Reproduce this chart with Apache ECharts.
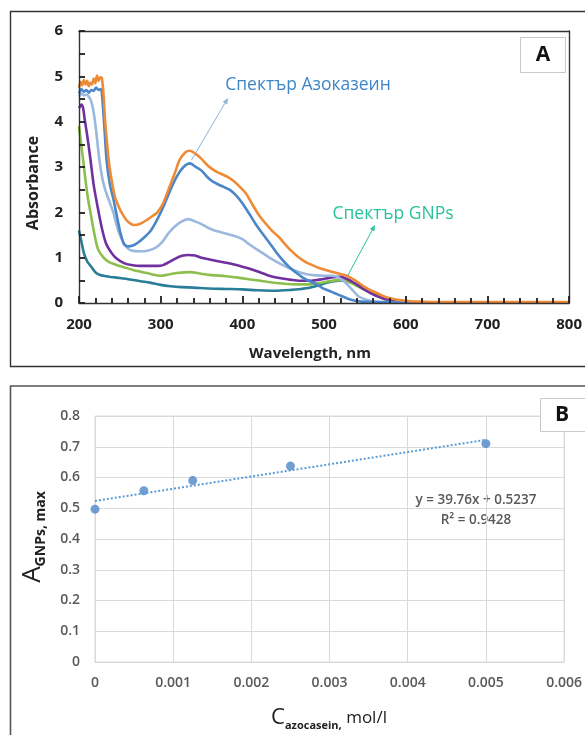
<!DOCTYPE html>
<html>
<head>
<meta charset="utf-8">
<script src="https://cdn.jsdelivr.net/npm/echarts@6/dist/echarts.min.js"></script>
<style>
  html, body { margin: 0; padding: 0; background: #ffffff; }
  #chart { width: 585px; height: 735px; }
</style>
</head>
<body>
<div id="chart"></div>
<script>
// ---- Panel A: UV-Vis absorption spectra, [wavelength nm, absorbance] ----
const spectrumOrange = [[200,4.75],[202,4.88],[204,4.8],[206,4.92],[208,4.82],[210,4.9],[212,4.78],[214,4.86],[216,4.82],[218,4.95],[220,4.85],[222,5.02],[224,4.9],[226,4.98],[228,4.96],[230,4.6],[232,4.0],[234,3.6],[236,3.2],[238,2.93],[241,2.6],[244,2.34],[248,2.15],[252,2.0],[258,1.83],[263,1.75],[268,1.72],[275,1.75],[282,1.82],[290,1.92],[296,2.0],[303,2.2],[311,2.57],[318,2.9],[323,3.15],[330,3.32],[336,3.36],[342,3.3],[350,3.18],[356,3.06],[361,2.98],[368,2.9],[375,2.84],[382,2.78],[390,2.68],[397,2.56],[405,2.4],[413,2.15],[421,1.92],[430,1.72],[437,1.58],[445,1.45],[452,1.3],[460,1.15],[468,1.02],[476,0.92],[485,0.84],[494,0.77],[503,0.72],[512,0.68],[520,0.64],[528,0.6],[535,0.53],[542,0.45],[549,0.36],[558,0.27],[567,0.2],[576,0.13],[585,0.09],[595,0.06],[605,0.04],[620,0.03],[640,0.02],[700,0.02],[800,0.02]];
const spectrumBlue = [[200,4.62],[203,4.72],[206,4.66],[209,4.7],[212,4.64],[215,4.7],[218,4.68],[221,4.75],[224,4.7],[227,4.72],[229,4.4],[231,3.9],[234,3.1],[238,2.6],[242,2.3],[246,1.95],[250,1.6],[255,1.3],[260,1.25],[266,1.27],[272,1.33],[280,1.45],[288,1.6],[296,1.85],[304,2.15],[312,2.5],[320,2.8],[328,3.0],[336,3.08],[343,3.0],[350,2.92],[357,2.78],[363,2.69],[370,2.62],[377,2.56],[385,2.49],[392,2.38],[400,2.2],[408,1.98],[416,1.75],[425,1.52],[433,1.33],[441,1.13],[449,0.95],[457,0.8],[465,0.68],[473,0.57],[481,0.49],[490,0.42],[498,0.33],[506,0.27],[514,0.21],[522,0.15],[530,0.09],[538,0.05],[546,0.03],[560,0.02],[600,0.01],[800,0.01]];
const spectrumLightBlue = [[200,4.55],[203,4.62],[206,4.58],[209,4.6],[212,4.55],[215,4.45],[218,4.2],[221,3.8],[224,3.3],[228,2.8],[232,2.5],[237,2.25],[242,2.0],[248,1.6],[254,1.35],[260,1.2],[266,1.15],[275,1.14],[285,1.16],[294,1.22],[302,1.35],[310,1.55],[318,1.7],[326,1.8],[334,1.85],[342,1.8],[350,1.74],[358,1.66],[366,1.6],[374,1.56],[382,1.52],[392,1.47],[400,1.41],[408,1.3],[416,1.2],[425,1.1],[433,1.0],[441,0.92],[449,0.84],[457,0.77],[465,0.71],[473,0.66],[481,0.63],[490,0.61],[500,0.6],[510,0.6],[518,0.56],[526,0.45],[534,0.3],[542,0.15],[552,0.07],[562,0.03],[580,0.02],[600,0.01],[800,0.01]];
const spectrumPurple = [[200,4.3],[203,4.38],[205,4.3],[207,4.05],[210,3.7],[214,3.17],[218,2.6],[223,2.1],[228,1.65],[233,1.32],[240,1.1],[246,0.98],[255,0.88],[264,0.84],[275,0.82],[287,0.82],[296,0.82],[302,0.83],[310,0.9],[318,0.98],[326,1.04],[334,1.06],[342,1.05],[350,1.0],[360,0.96],[370,0.92],[380,0.89],[390,0.85],[400,0.8],[408,0.76],[418,0.7],[430,0.62],[440,0.57],[449,0.54],[460,0.51],[470,0.49],[481,0.49],[492,0.51],[502,0.54],[512,0.57],[520,0.58],[528,0.53],[538,0.43],[548,0.31],[558,0.21],[568,0.13],[578,0.07],[590,0.04],[605,0.02],[800,0.01]];
const spectrumGreen = [[200,3.9],[202,3.6],[205,3.17],[208,2.7],[211,2.3],[214,2.0],[218,1.6],[223,1.2],[230,1.0],[237,0.9],[246,0.84],[255,0.79],[266,0.73],[278,0.68],[290,0.63],[300,0.6],[310,0.63],[320,0.66],[336,0.68],[348,0.65],[360,0.62],[380,0.59],[395,0.56],[410,0.52],[430,0.47],[449,0.43],[468,0.41],[481,0.41],[495,0.44],[506,0.48],[514,0.5],[522,0.51],[532,0.45],[542,0.36],[552,0.27],[562,0.18],[572,0.1],[583,0.04],[600,0.02],[650,0.01],[800,0.01]];
const spectrumTeal = [[200,1.6],[203,1.35],[206,1.1],[210,0.92],[215,0.8],[220,0.68],[226,0.62],[237,0.58],[250,0.55],[262,0.52],[275,0.48],[287,0.45],[300,0.4],[312,0.37],[325,0.35],[340,0.34],[360,0.32],[380,0.31],[400,0.3],[420,0.28],[440,0.27],[460,0.29],[472,0.31],[481,0.33],[492,0.38],[502,0.44],[512,0.48],[522,0.5],[532,0.46],[542,0.4],[552,0.3],[562,0.19],[572,0.1],[583,0.04],[600,0.02],[650,0.01],[800,0.01]];

// ---- Panel B: GNPs absorbance maximum vs azocasein concentration ----
const azocaseinConc = [0, 0.000625, 0.00125, 0.0025, 0.005];
const gnpsAbsMax = [0.497, 0.557, 0.590, 0.637, 0.710];
const fitSlope = 39.76;
const fitIntercept = 0.5237;
const fitR2 = 0.9428;

const chart = echarts.init(document.getElementById('chart'));

const fontFamily = '"Open Sans", "Noto Sans", sans-serif';
const frameColor = '#333333';
const tickColor = '#1e1e1e';

function spectrumSeries(data, color) {
  return {
    type: 'line', xAxisIndex: 0, yAxisIndex: 0, data: data,
    showSymbol: false, smooth: 0.25, silent: true,
    lineStyle: { color: color, width: 2.6 }
  };
}

// simple arrow (shaft + head) for the panel A callouts
function arrow(x1, y1, x2, y2, color) {
  const ang = Math.atan2(y2 - y1, x2 - x1);
  const len = 6, half = 2.6;
  const bx = x2 - len * Math.cos(ang), by = y2 - len * Math.sin(ang);
  const px = -Math.sin(ang) * half, py = Math.cos(ang) * half;
  return [
    { type: 'line', shape: { x1: x1, y1: y1, x2: bx, y2: by }, style: { stroke: color, lineWidth: 1 }, z: 20 },
    { type: 'polygon', shape: { points: [[x2, y2], [bx + px, by + py], [bx - px, by - py]] }, style: { fill: color }, z: 20 }
  ];
}

// plain frame axis (top / right edge of the spectra plot)
function frameAxis(extra) {
  return Object.assign({
    gridIndex: 0, type: 'value',
    axisLine: { show: true, onZero: false, lineStyle: { color: frameColor, width: 1.4 } },
    axisTick: { show: false }, axisLabel: { show: false }, splitLine: { show: false }
  }, extra);
}

const fitLine = [
  [azocaseinConc[0], fitSlope * azocaseinConc[0] + fitIntercept],
  [azocaseinConc[azocaseinConc.length - 1], fitSlope * azocaseinConc[azocaseinConc.length - 1] + fitIntercept]
];

const option = {
  backgroundColor: '#ffffff',
  animation: false,
  grid: [
    { left: 79, top: 31, width: 493, height: 272 },
    { left: 95, top: 416, width: 472, height: 246, show: true, borderColor: '#d9d9d9', borderWidth: 1 }
  ],
  xAxis: [
    {
      gridIndex: 0, type: 'value', min: 200, max: 800, interval: 100, zlevel: 1, z: 10,
      axisLine: { show: true, onZero: false, lineStyle: { color: frameColor, width: 1.4 } },
      axisTick: { show: true, inside: true, length: 7, lineStyle: { color: tickColor, width: 1.8 } },
      minorTick: { show: true, splitNumber: 5, length: 5, lineStyle: { color: tickColor, width: 1.8 } },
      splitLine: { show: false },
      axisLabel: { color: '#222', fontFamily: fontFamily, fontWeight: 'bold', fontSize: 15, margin: 14 }
    },
    {
      gridIndex: 1, type: 'value', min: 0, max: 0.006, interval: 0.001,
      axisLine: { show: true, lineStyle: { color: '#d9d9d9', width: 1 } },
      axisTick: { show: false },
      splitLine: { show: true, lineStyle: { color: '#d9d9d9', width: 1 } },
      axisLabel: {
        color: '#595959', fontFamily: fontFamily, fontWeight: 600, fontSize: 14, margin: 14,
        formatter: v => (v === 0 ? '0' : v.toFixed(3))
      }
    },
    frameAxis({ position: 'top', min: 200, max: 800, interval: 100 })
  ],
  yAxis: [
    {
      gridIndex: 0, type: 'value', min: 0, max: 6, interval: 1, zlevel: 1, z: 10,
      axisLine: { show: true, onZero: false, lineStyle: { color: frameColor, width: 1.4 } },
      axisTick: { show: true, inside: true, length: 6, lineStyle: { color: tickColor, width: 1.8 } },
      minorTick: { show: true, splitNumber: 2, length: 6, lineStyle: { color: tickColor, width: 1.8 } },
      splitLine: { show: false },
      axisLabel: { color: '#222', fontFamily: fontFamily, fontWeight: 'bold', fontSize: 15, margin: 16 }
    },
    {
      gridIndex: 1, type: 'value', min: 0, max: 0.8, interval: 0.1,
      axisLine: { show: false },
      axisTick: { show: false },
      splitLine: { show: true, lineStyle: { color: '#d9d9d9', width: 1 } },
      axisLabel: {
        color: '#595959', fontFamily: fontFamily, fontWeight: 600, fontSize: 14, margin: 15,
        formatter: v => (v === 0 ? '0' : v.toFixed(1))
      }
    },
    frameAxis({ position: 'right', min: 0, max: 6, interval: 1 })
  ],
  series: [
    spectrumSeries(spectrumTeal, '#2a7d97'),
    spectrumSeries(spectrumGreen, '#8dbf4c'),
    spectrumSeries(spectrumPurple, '#7030a0'),
    spectrumSeries(spectrumLightBlue, '#9bb8de'),
    spectrumSeries(spectrumBlue, '#4a86c8'),
    spectrumSeries(spectrumOrange, '#ef8a35'),
    {
      type: 'line', xAxisIndex: 1, yAxisIndex: 1, data: fitLine,
      showSymbol: false, silent: true,
      lineStyle: { color: '#5b9bd5', width: 2, type: 'dotted' }
    },
    {
      type: 'scatter', xAxisIndex: 1, yAxisIndex: 1,
      data: azocaseinConc.map((c, i) => [c, gnpsAbsMax[i]]),
      symbol: 'circle', symbolSize: 9,
      itemStyle: { color: '#4f86c6' }
    }
  ],
  graphic: [
    // panel frames
    { type: 'polyline', shape: { points: [[600, 11.5], [10.5, 11.5], [10.5, 366.5], [600, 366.5]] }, style: { fill: null, stroke: '#333', lineWidth: 1.4 }, silent: true },
    { type: 'polyline', shape: { points: [[600, 386], [10.5, 386], [10.5, 740]] }, style: { fill: null, stroke: '#555', lineWidth: 1.6 }, silent: true },
    // panel letters
    { type: 'rect', shape: { x: 520.5, y: 37.5, width: 45, height: 35 }, style: { fill: '#fff', stroke: '#c8c8c8', lineWidth: 1 }, z: 10 },
    { type: 'text', x: 543, y: 55, style: { text: 'A', fill: '#111', font: 'bold 21px ' + fontFamily, align: 'center', verticalAlign: 'middle' }, z: 11 },
    { type: 'rect', shape: { x: 540.5, y: 398.5, width: 60, height: 33 }, style: { fill: '#fff', stroke: '#c8c8c8', lineWidth: 1 }, z: 10 },
    { type: 'text', x: 562, y: 415, style: { text: 'B', fill: '#111', font: 'bold 21px ' + fontFamily, align: 'center', verticalAlign: 'middle' }, z: 11 },
    // panel A axis titles
    { type: 'text', x: 33, y: 183, rotation: Math.PI / 2, style: { text: 'Absorbance', fill: '#222', font: 'bold 16px ' + fontFamily, align: 'center', verticalAlign: 'middle' } },
    { type: 'text', x: 310, y: 354, style: { text: 'Wavelength, nm', fill: '#222', font: 'bold 15px ' + fontFamily, align: 'center', verticalAlign: 'middle' } },
    // panel A callouts
    { type: 'text', x: 308, y: 85, style: { text: 'Спектър Азоказеин', fill: '#3f86c9', font: '17.5px ' + fontFamily, align: 'center', verticalAlign: 'middle' }, z: 20 },
    ...arrow(191.5, 160, 228, 98, '#8fb3d6'),
    { type: 'text', x: 393, y: 214, style: { text: 'Спектър GNPs', fill: '#27c39b', font: '17.5px ' + fontFamily, align: 'center', verticalAlign: 'middle' }, z: 20 },
    ...arrow(348, 275, 375, 225, '#27c39b'),
    // panel B axis titles
    {
      type: 'text', x: 33, y: 537, rotation: Math.PI / 2,
      style: {
        text: '{a|A}{s|GNPs, max}', align: 'center', verticalAlign: 'middle', fill: '#222',
        rich: {
          a: { font: '26px ' + fontFamily, fill: '#222', lineHeight: 30, verticalAlign: 'middle' },
          s: { font: 'bold 14px ' + fontFamily, fill: '#222', lineHeight: 12, verticalAlign: 'bottom' }
        }
      }
    },
    {
      type: 'text', x: 329, y: 718,
      style: {
        text: '{c|C}{s|azocasein,}{m| mol/l}', align: 'center', verticalAlign: 'middle', fill: '#222',
        rich: {
          c: { font: '22px ' + fontFamily, fill: '#222', lineHeight: 26, verticalAlign: 'middle' },
          s: { font: 'bold 11px ' + fontFamily, fill: '#222', lineHeight: 8, verticalAlign: 'bottom' },
          m: { font: '17px ' + fontFamily, fill: '#222', lineHeight: 26, verticalAlign: 'middle' }
        }
      }
    },
    // regression label
    { type: 'text', x: 476, y: 500, style: { text: 'y = ' + fitSlope + 'x + ' + fitIntercept, fill: '#595959', font: '600 13.5px ' + fontFamily, align: 'center', verticalAlign: 'middle' } },
    { type: 'text', x: 476, y: 520, style: { text: 'R² = ' + fitR2, fill: '#595959', font: '600 13.5px ' + fontFamily, align: 'center', verticalAlign: 'middle' } }
  ]
};

chart.setOption(option);
</script>
</body>
</html>
